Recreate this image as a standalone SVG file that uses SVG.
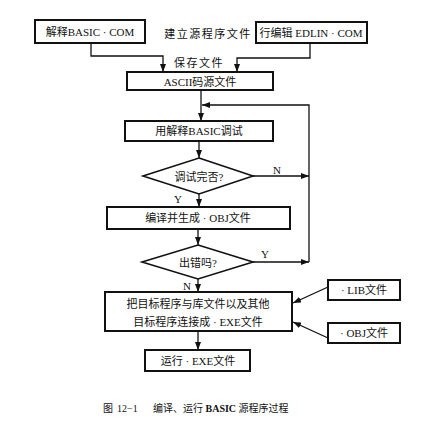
<svg xmlns="http://www.w3.org/2000/svg" width="432" height="431" viewBox="0 0 432 431">
<style>
.box{fill:#fff;stroke:#111;stroke-width:2}
.dia{fill:#fff;stroke:#111;stroke-width:1.6}
.con{fill:none;stroke:#111;stroke-width:1.3}
text{font-family:"Liberation Serif","Noto Sans CJK SC",serif;font-size:11px;fill:#111;text-anchor:middle;dominant-baseline:central}
text.st{text-anchor:start;font-size:10px}
.lbl{font-weight:bold}
</style>
<defs>
<marker id="ah" viewBox="0 0 8 6" refX="8" refY="3" markerWidth="8" markerHeight="6" markerUnits="userSpaceOnUse" orient="auto">
<path d="M0,0 L8,3 L0,6 z" fill="#111"/>
</marker>
</defs>
<rect width="432" height="431" fill="#fff"/>
<g id="connectors">
<path class="con" d="M91,43 V56 H163 V72" marker-end="url(#ah)"/>
<path class="con" d="M310,43 V58 H237 V72" marker-end="url(#ah)"/>
<path class="con" d="M201,90 V121" marker-end="url(#ah)"/>
<path class="con" d="M309,262 V105 H202" marker-end="url(#ah)"/>
<path class="con" d="M199,141 V158" marker-end="url(#ah)"/>
<path class="con" d="M253,176 H309" marker-end="url(#ah)"/>
<path class="con" d="M199,194 V207" marker-end="url(#ah)"/>
<path class="con" d="M198,229 V245" marker-end="url(#ah)"/>
<path class="con" d="M253,262 H309" marker-end="url(#ah)"/>
<path class="con" d="M198,279 V292" marker-end="url(#ah)"/>
<path class="con" d="M328,287 L293,303" marker-end="url(#ah)"/>
<path class="con" d="M328,338 L293,322" marker-end="url(#ah)"/>
<path class="con" d="M198,331 V350" marker-end="url(#ah)"/>
<text x="277" y="170">N</text>
<text x="178" y="199">Y</text>
<text x="265" y="254">Y</text>
<text x="187" y="286">N</text>
<text x="208" y="34" letter-spacing="1.5">建立源程序文件</text>
<text x="199" y="63" letter-spacing="1.5">保存文件</text>
</g>
<g id="n1"><rect class="box" x="35" y="20" width="110" height="23"/><text x="90" y="32">解释BASIC · COM</text></g>
<g id="n2"><rect class="box" x="256" y="22" width="111" height="21"/><text x="311" y="33">行编辑 EDLIN · COM</text></g>
<g id="n3"><rect class="box" x="127" y="72" width="146" height="18"/><text x="200" y="82">ASCII码源文件</text></g>
<g id="n4"><rect class="box" x="125" y="121" width="148" height="20"/><text x="199" y="131">用解释BASIC调试</text></g>
<g id="n5"><polygon class="dia" points="199,158 253,176 199,194 143,176"/><text x="199" y="177">调试完否?</text></g>
<g id="n6"><rect class="box" x="107" y="207" width="183" height="22"/><text x="198" y="218">编译并生成 · OBJ文件</text></g>
<g id="n7"><polygon class="dia" points="198,245 253,262 198,279 142,262"/><text x="198" y="263">出错吗?</text></g>
<g id="n8"><rect class="box" x="105" y="292" width="187" height="39"/><text x="198" y="304">把目标程序与库文件以及其他</text><text x="198" y="322">目标程序连接成 · EXE文件</text></g>
<g id="n9"><rect class="box" x="328" y="280" width="72" height="20"/><text x="364" y="290">· LIB文件</text></g>
<g id="n10"><rect class="box" x="328" y="323" width="72" height="20"/><text x="364" y="333">· OBJ文件</text></g>
<g id="n11"><rect class="box" x="145" y="350" width="105" height="21"/><text x="198" y="361">运行 · EXE文件</text></g>
<g id="caption">
<text class="st" x="103" y="408">图</text>
<text class="st" x="117" y="408">12−1</text>
<text class="st" x="153" y="408">编译、运行 <tspan class="lbl">BASIC</tspan> 源程序过程</text>
</g>
</svg>
